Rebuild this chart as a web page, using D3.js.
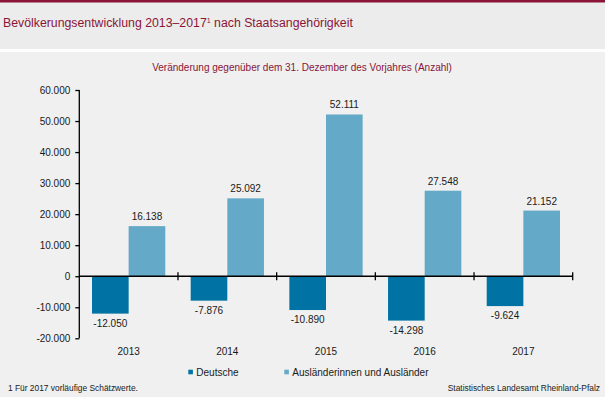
<!DOCTYPE html>
<html lang="de">
<head>
<meta charset="UTF-8">
<title>Bevölkerungsentwicklung</title>
<script src="https://d3js.org/d3.v7.min.js"></script>
<style>
    html, body { margin: 0; padding: 0; background: #ffffff; }
    svg { display: block; font-family: "Liberation Sans", Arial, sans-serif; }
</style>
</head>
<body>
<div id="chart"></div>
<script>
    // data
    const years = ["2013", "2014", "2015", "2016", "2017"];
    const deutsche = [-12050, -7876, -10890, -14298, -9624];
    const auslaender = [16138, 25092, 52111, 27548, 21152];
    const seriesNames = ["Deutsche", "Ausländerinnen und Ausländer"];
    const yTicks = [-20000, -10000, 0, 10000, 20000, 30000, 40000, 50000, 60000];

    const W = 605, H = 397;
    const colors = ["#0072a3", "#65a9c8"];
    const maroon = "#8a1538";

    const de = d3.formatLocale({decimal: ",", thousands: ".", grouping: [3], currency: ["", " €"], minus: "-"});
    const fmt = de.format(",d");

    const svg = d3.select("#chart").append("svg")
        .attr("width", W).attr("height", H);

    // backgrounds
    svg.append("rect").attr("width", W).attr("height", H).attr("fill", "#eff0ef");
    svg.append("rect").attr("width", W).attr("height", 49).attr("fill", "#ececec");
    svg.append("rect").attr("y", 49).attr("width", W).attr("height", 3).attr("fill", "#ffffff");
    svg.append("rect").attr("width", W).attr("height", 2.5).attr("fill", maroon);

    // title
    const title = svg.append("text")
        .attr("x", 3).attr("y", 27)
        .attr("fill", maroon)
        .style("font-size", "12.3px");
    title.append("tspan").text("Bevölkerungsentwicklung 2013–2017");
    title.append("tspan").attr("dy", -4).style("font-size", "7px").text("1");
    title.append("tspan").attr("dy", 4).text(" nach Staatsangehörigkeit");

    svg.append("text")
        .attr("x", 302).attr("y", 71)
        .attr("text-anchor", "middle")
        .attr("fill", maroon)
        .style("font-size", "10px")
        .text("Veränderung gegenüber dem 31. Dezember des Vorjahres (Anzahl)");

    // scales
    const x0 = d3.scaleBand().domain(years).range([79.3, 572.7]);
    const x1 = d3.scaleBand().domain([0, 1]).range([12.7, x0.bandwidth() - 12.7]);
    const y = d3.scaleLinear().domain([-20000, 60000]).range([338.3, 90]);

    // y axis
    const yAxis = svg.append("g")
        .attr("transform", "translate(79.3,0)")
        .call(d3.axisLeft(y).tickValues(yTicks).tickSize(4).tickPadding(5).tickFormat(fmt));
    yAxis.select(".domain").attr("stroke", "#000").attr("stroke-width", 1.3)
        .attr("d", "M0," + y(60000) + "V" + y(-20000));
    yAxis.selectAll(".tick line").attr("stroke", "#000").attr("stroke-width", 1.3);
    yAxis.selectAll(".tick text").attr("fill", "#1a1a1a")
        .style("font-size", "10px").style("font-family", "Liberation Sans, Arial, sans-serif");

    // bars
    const groups = svg.selectAll(".year").data(years).enter().append("g")
        .attr("transform", d => "translate(" + x0(d) + ",0)");

    groups.each(function (yr, i) {
        const g = d3.select(this);
        [deutsche[i], auslaender[i]].forEach(function (v, s) {
            g.append("rect")
                .attr("x", x1(s))
                .attr("width", x1.bandwidth())
                .attr("y", Math.min(y(v), y(0)))
                .attr("height", Math.abs(y(v) - y(0)))
                .attr("fill", colors[s]);
            g.append("text")
                .attr("x", x1(s) + x1.bandwidth() / 2)
                .attr("y", v >= 0 ? y(v) - 6 : y(v) + 13)
                .attr("text-anchor", "middle")
                .attr("fill", "#1a1a1a")
                .style("font-size", "10px")
                .text(fmt(v));
        });
        g.append("text")
            .attr("x", x0.bandwidth() / 2)
            .attr("y", 355)
            .attr("text-anchor", "middle")
            .attr("fill", "#1a1a1a")
            .style("font-size", "10px")
            .text(yr);
    });

    // zero line with category ticks
    svg.append("line")
        .attr("x1", 79.3).attr("x2", 572.7)
        .attr("y1", y(0)).attr("y2", y(0))
        .attr("stroke", "#000").attr("stroke-width", 1.3);
    const bounds = years.map(d => x0(d) + x0.bandwidth());
    svg.selectAll(".ctick").data(bounds).enter().append("line")
        .attr("x1", d => d).attr("x2", d => d)
        .attr("y1", y(0) - 4).attr("y2", y(0) + 4)
        .attr("stroke", "#000").attr("stroke-width", 1.3);

    // legend
    const legX = [188.3, 284.3];
    seriesNames.forEach(function (name, i) {
        svg.append("rect")
            .attr("x", legX[i]).attr("y", 369.7)
            .attr("width", 4.6).attr("height", 4.6)
            .attr("fill", colors[i]);
        svg.append("text")
            .attr("x", legX[i] + 8).attr("y", 376)
            .attr("fill", "#1a1a1a")
            .style("font-size", "10px")
            .text(name);
    });

    // footnotes
    svg.append("text")
        .attr("x", 8).attr("y", 391)
        .attr("fill", "#1a1a1a")
        .style("font-size", "8.4px")
        .text("1 Für 2017 vorläufige Schätzwerte.");
    svg.append("text")
        .attr("x", 600).attr("y", 391)
        .attr("text-anchor", "end")
        .attr("fill", "#1a1a1a")
        .style("font-size", "8.4px")
        .text("Statistisches Landesamt Rheinland-Pfalz");
</script>
</body>
</html>
